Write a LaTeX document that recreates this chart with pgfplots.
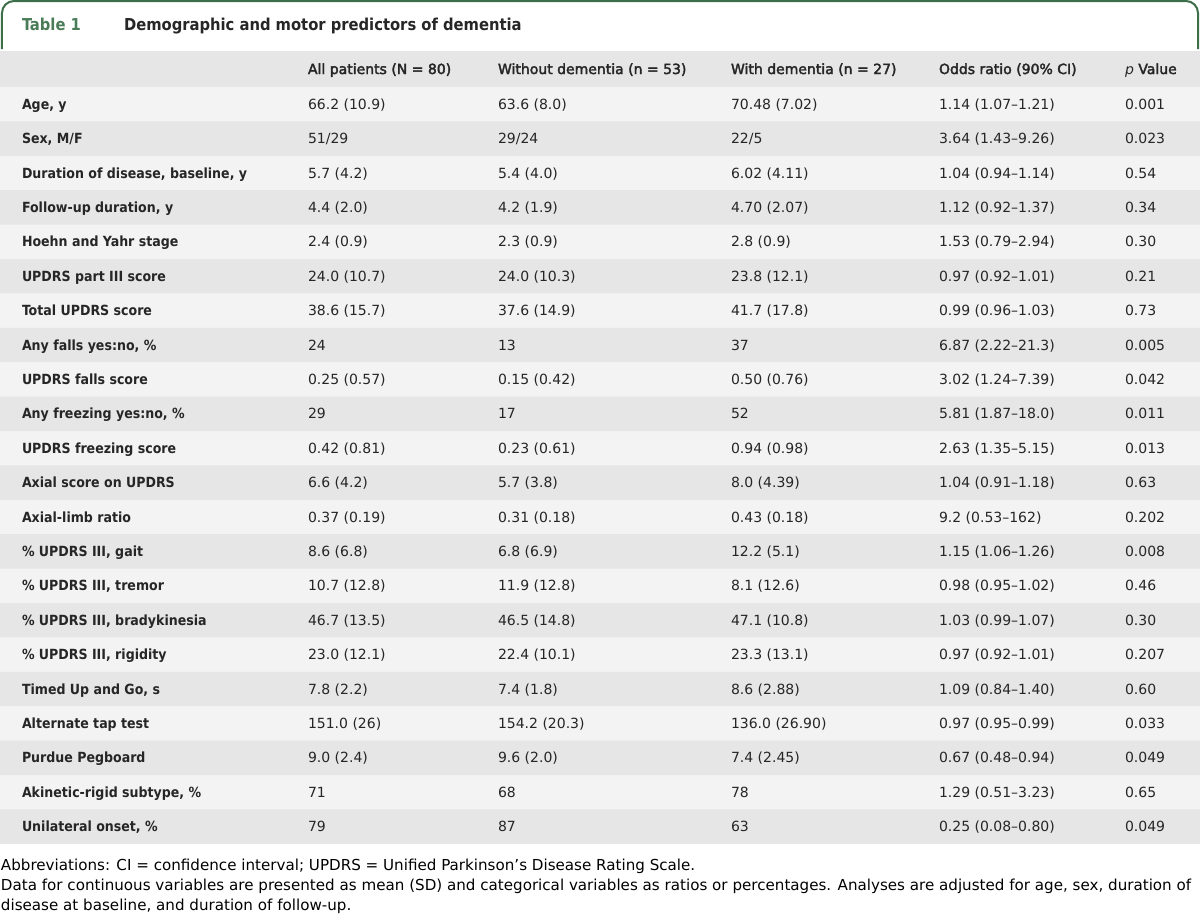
\documentclass[border=0pt]{standalone}
\usepackage{pgfplots}
\pgfplotsset{compat=1.18}
\usepackage{fontspec}
\setmainfont{DejaVu Sans}
\newfontface\labelfont{DejaVu Sans Condensed Bold}
\newfontface\headfont{DejaVu Sans}[FakeBold=2.5]
\newfontface\titlefont{DejaVu Sans Condensed Bold}
\definecolor{framegreen}{HTML}{3D6E4A}
\definecolor{tgreen}{HTML}{4B7C58}
\definecolor{rowdark}{HTML}{E6E6E6}
\definecolor{rowlight}{HTML}{F3F3F3}
\definecolor{txt}{HTML}{262626}
\newcommand\tabrow[7]{%
  \node[anchor=base west,font=\labelfont] at (axis cs:22,#1+5) {#2};
  \node[anchor=base west] at (axis cs:308,#1+5) {#3};
  \node[anchor=base west] at (axis cs:498,#1+5) {#4};
  \node[anchor=base west] at (axis cs:731,#1+5) {#5};
  \node[anchor=base west] at (axis cs:939,#1+5) {#6};
  \node[anchor=base west] at (axis cs:1125,#1+5) {#7};
}
\begin{document}
\fontsize{7}{8.4}\selectfont
\begin{tikzpicture}[every node/.style={inner sep=0pt,outer sep=0pt,text=txt}]
\begin{axis}[width=600pt,height=463pt,scale only axis,
  xmin=0,xmax=1200,ymin=0,ymax=926,y dir=reverse,
  axis lines=none,ticks=none,clip=false]
% table background (light rows)
\addplot[xbar,bar width=756.8,bar shift=0pt,draw=none,fill=rowlight] coordinates {(1200,466.4)};
% header band
\addplot[xbar,bar width=36,bar shift=0pt,draw=none,fill=rowdark] coordinates {(1200,70)};
% darker alternate rows
\addplot[xbar,bar width=34.4,bar shift=0pt,draw=none,fill=rowdark] coordinates {
(1200,139.6) (1200,208.4) (1200,277.2) (1200,346) (1200,414.8) (1200,483.6)
(1200,552.4) (1200,621.2) (1200,690) (1200,758.8) (1200,827.6)};
% green title frame
\draw[framegreen,line width=1pt,rounded corners=6pt] (axis cs:2,50) -- (axis cs:2,2) -- (axis cs:1198,2) -- (axis cs:1198,50);
\node[anchor=base west,font=\titlefont\fontsize{8.2}{9.8}\selectfont,text=tgreen] at (axis cs:22,31) {Table 1};
\node[anchor=base west,font=\titlefont\fontsize{8.2}{9.8}\selectfont,text=txt] at (axis cs:124,31) {Demographic and motor predictors of dementia};
% header
\node[anchor=base west,font=\headfont] at (axis cs:308,75) {All patients (N = 80)};
\node[anchor=base west,font=\headfont] at (axis cs:498,75) {Without dementia (n = 53)};
\node[anchor=base west,font=\headfont] at (axis cs:731,75) {With dementia (n = 27)};
\node[anchor=base west,font=\headfont] at (axis cs:939,75) {Odds ratio (90\% CI)};
\node[anchor=base west] at (axis cs:1125,75) {{\itshape p} {\headfont Value}};
% rows
\tabrow{105.2}{Age, y}{66.2 (10.9)}{63.6 (8.0)}{70.48 (7.02)}{1.14 (1.07--1.21)}{0.001}
\tabrow{139.6}{Sex, M/F}{51/29}{29/24}{22/5}{3.64 (1.43--9.26)}{0.023}
\tabrow{174.0}{Duration of disease, baseline, y}{5.7 (4.2)}{5.4 (4.0)}{6.02 (4.11)}{1.04 (0.94--1.14)}{0.54}
\tabrow{208.4}{Follow-up duration, y}{4.4 (2.0)}{4.2 (1.9)}{4.70 (2.07)}{1.12 (0.92--1.37)}{0.34}
\tabrow{242.8}{Hoehn and Yahr stage}{2.4 (0.9)}{2.3 (0.9)}{2.8 (0.9)}{1.53 (0.79--2.94)}{0.30}
\tabrow{277.2}{UPDRS part III score}{24.0 (10.7)}{24.0 (10.3)}{23.8 (12.1)}{0.97 (0.92--1.01)}{0.21}
\tabrow{311.6}{Total UPDRS score}{38.6 (15.7)}{37.6 (14.9)}{41.7 (17.8)}{0.99 (0.96--1.03)}{0.73}
\tabrow{346.0}{Any falls yes:no, \%}{24}{13}{37}{6.87 (2.22--21.3)}{0.005}
\tabrow{380.4}{UPDRS falls score}{0.25 (0.57)}{0.15 (0.42)}{0.50 (0.76)}{3.02 (1.24--7.39)}{0.042}
\tabrow{414.8}{Any freezing yes:no, \%}{29}{17}{52}{5.81 (1.87--18.0)}{0.011}
\tabrow{449.2}{UPDRS freezing score}{0.42 (0.81)}{0.23 (0.61)}{0.94 (0.98)}{2.63 (1.35--5.15)}{0.013}
\tabrow{483.6}{Axial score on UPDRS}{6.6 (4.2)}{5.7 (3.8)}{8.0 (4.39)}{1.04 (0.91--1.18)}{0.63}
\tabrow{518.0}{Axial-limb ratio}{0.37 (0.19)}{0.31 (0.18)}{0.43 (0.18)}{9.2 (0.53--162)}{0.202}
\tabrow{552.4}{\% UPDRS III, gait}{8.6 (6.8)}{6.8 (6.9)}{12.2 (5.1)}{1.15 (1.06--1.26)}{0.008}
\tabrow{586.8}{\% UPDRS III, tremor}{10.7 (12.8)}{11.9 (12.8)}{8.1 (12.6)}{0.98 (0.95--1.02)}{0.46}
\tabrow{621.2}{\% UPDRS III, bradykinesia}{46.7 (13.5)}{46.5 (14.8)}{47.1 (10.8)}{1.03 (0.99--1.07)}{0.30}
\tabrow{655.6}{\% UPDRS III, rigidity}{23.0 (12.1)}{22.4 (10.1)}{23.3 (13.1)}{0.97 (0.92--1.01)}{0.207}
\tabrow{690.0}{Timed Up and Go, s}{7.8 (2.2)}{7.4 (1.8)}{8.6 (2.88)}{1.09 (0.84--1.40)}{0.60}
\tabrow{724.4}{Alternate tap test}{151.0 (26)}{154.2 (20.3)}{136.0 (26.90)}{0.97 (0.95--0.99)}{0.033}
\tabrow{758.8}{Purdue Pegboard}{9.0 (2.4)}{9.6 (2.0)}{7.4 (2.45)}{0.67 (0.48--0.94)}{0.049}
\tabrow{793.2}{Akinetic-rigid subtype, \%}{71}{68}{78}{1.29 (0.51--3.23)}{0.65}
\tabrow{827.6}{Unilateral onset, \%}{79}{87}{63}{0.25 (0.08--0.80)}{0.049}
% footnotes
\node[anchor=base west,font=\fontsize{7.56}{9}\selectfont,text=black] at (axis cs:1,871) {Abbreviations: CI = confidence interval; UPDRS = Unified Parkinson's Disease Rating Scale.};
\node[anchor=base west,font=\fontsize{7.56}{9}\selectfont,text=black] at (axis cs:1,891) {Data for continuous variables are presented as mean (SD) and categorical variables as ratios or percentages. Analyses are adjusted for age, sex, duration of};
\node[anchor=base west,font=\fontsize{7.56}{9}\selectfont,text=black] at (axis cs:1,911) {disease at baseline, and duration of follow-up.};
\end{axis}
\end{tikzpicture}
\end{document}
